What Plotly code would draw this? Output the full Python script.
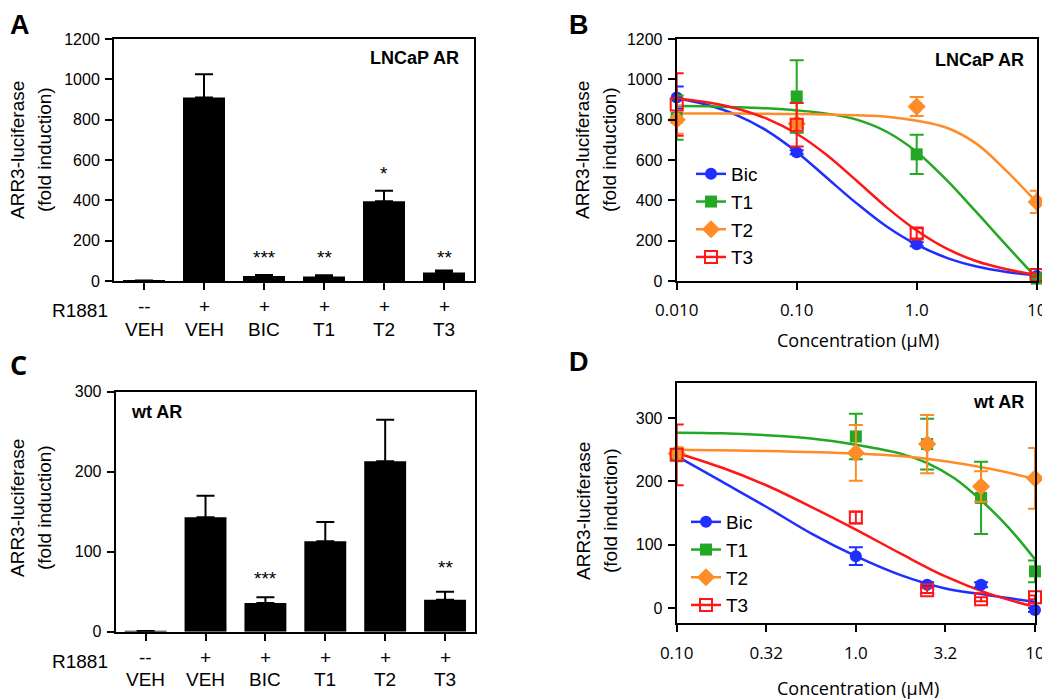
import plotly.graph_objects as go

# The page body has an 8px margin: lay the figure out in page pixels and compensate.
OFF = 8
W, H = 1050 - OFF, 699 - OFF
def px(x): return (x - OFF) / W
def py(y): return 1 - (y - OFF) / H

# ---------------- DATA ----------------
bar_row1 = ["--", "+", "+", "+", "+", "+"]
bar_row2 = ["VEH", "VEH", "BIC", "T1", "T2", "T3"]

a_vals = [3, 910, 25, 22, 395, 42]
a_err = [0, 115, 5, 6, 52, 10]
a_stars = ["", "", "***", "**", "*", "**"]
a_star_y = [0, 0, 115, 115, 535, 115]

c_vals = [1, 143, 36, 113, 213, 40]
c_err = [0, 27, 7, 24, 52, 10]
c_stars = ["", "", "***", "", "", "**"]
c_star_y = [0, 0, 67, 0, 0, 80]

series = ["Bic", "T1", "T2", "T3"]
colors = {"Bic": "#1f2fff", "T1": "#22a822", "T2": "#ff8c26", "T3": "#ff1616"}
symbols = {"Bic": "circle", "T1": "square", "T2": "diamond", "T3": "square-open"}
msize = {"Bic": 12, "T1": 12, "T2": 14, "T3": 12}

# Panel B (LNCaP AR) points
b_conc = [0.01, 0.1, 1.0, 10.0]
b_mean = {"Bic": [910, 638, 182, 25], "T1": [810, 915, 628, 12],
          "T2": [800, 780, 865, 392], "T3": [875, 775, 236, 30]}
b_sd = {"Bic": [55, 10, 10, 5], "T1": [110, 180, 97, 5],
        "T2": [70, 20, 47, 55], "T3": [155, 108, 25, 8]}
# Panel B fitted curves
b_curve_x = [0.01, 0.0178, 0.0316, 0.0562, 0.1, 0.178, 0.316, 0.562, 1.0, 1.78, 3.16, 5.62, 10.0]
b_curve = {"Bic": [906, 874, 823, 746, 640, 512, 385, 270, 180, 115, 72, 45, 28],
           "T1": [868, 866, 862, 856, 846, 830, 800, 740, 640, 500, 340, 175, 15],
           "T2": [830, 830, 830, 829, 828, 826, 822, 815, 795, 760, 680, 545, 390],
           "T3": [905, 886, 855, 805, 730, 625, 497, 365, 250, 160, 98, 58, 30]}

# Panel D (wt AR) points
d_conc = [0.1, 1.0, 2.5, 5.0, 10.0]
d_mean = {"Bic": [240, 82, 37, 37, -3], "T1": [242, 271, 259, 174, 58],
          "T2": [244, 245, 259, 192, 205], "T3": [242, 143, 28, 14, 17]}
d_sd = {"Bic": [5, 14, 4, 4, 3], "T1": [10, 36, 40, 57, 17],
        "T2": [10, 44, 46, 24, 48], "T3": [48, 9, 4, 3, 3]}
d_curve_x = {"Bic": [0.1, 0.178, 0.316, 0.562, 1.0, 1.78, 3.16, 5.62, 10.0],
             "T1": [0.1, 0.178, 0.316, 0.562, 1.0, 1.78, 2.51, 3.55, 5.01, 7.08, 10.0],
             "T2": [0.1, 0.316, 1.0, 1.78, 3.16, 5.62, 10.0],
             "T3": [0.1, 0.178, 0.316, 0.562, 1.0, 1.78, 3.16, 5.62, 10.0]}
d_curve = {"Bic": [240, 200, 160, 118, 82, 52, 31, 20, 10],
           "T1": [277, 276, 273, 268, 258, 244, 229, 205, 170, 128, 77],
           "T2": [250, 248, 244, 240, 232, 220, 204],
           "T3": [245, 222, 194, 160, 124, 86, 50, 22, 2]}

# ---------------- FIGURE ----------------
FONT = "Liberation Sans, Arial, sans-serif"
OFONT = "Open Sans, sans-serif"

fig = go.Figure()

# bars
fig.add_trace(go.Bar(x=list(range(6)), y=a_vals, width=0.7, marker_color="black",
                     marker_line_width=0,
                     error_y=dict(type="data", symmetric=False, array=a_err,
                                  arrayminus=[0] * 6, color="black", thickness=2, width=9),
                     xaxis="x", yaxis="y", showlegend=False))
fig.add_trace(go.Bar(x=list(range(6)), y=c_vals, width=0.7, marker_color="black",
                     marker_line_width=0,
                     error_y=dict(type="data", symmetric=False, array=c_err,
                                  arrayminus=[0] * 6, color="black", thickness=2, width=9),
                     xaxis="x3", yaxis="y3", showlegend=False))

# curves + points
for xa, ya, cx, cy, pts_x, pts_y, pts_sd, lg in [
    ("x2", "y2", b_curve_x, b_curve, b_conc, b_mean, b_sd, "legend"),
    ("x4", "y4", d_curve_x, d_curve, d_conc, d_mean, d_sd, "legend2")]:
    for s in series:
        xs = cx[s] if isinstance(cx, dict) else cx
        fig.add_trace(go.Scatter(x=xs, y=cy[s], mode="lines", line=dict(color=colors[s], width=2.5, shape="spline"),
                                 xaxis=xa, yaxis=ya, showlegend=False, cliponaxis=False))
    for s in series:
        fig.add_trace(go.Scatter(x=pts_x, y=pts_y[s], mode="markers",
                                 marker=dict(symbol=symbols[s], size=msize[s], color=colors[s],
                                             line=dict(color=colors[s], width=2 if s == "T3" else 0)),
                                 error_y=dict(type="data", array=pts_sd[s], color=colors[s], thickness=2, width=7),
                                 xaxis=xa, yaxis=ya, showlegend=False, cliponaxis=False))
    for s in series:
        fig.add_trace(go.Scatter(x=[None], y=[None], mode="lines+markers", name=s,
                                 marker=dict(symbol=symbols[s], size=msize[s], color=colors[s],
                                             line=dict(color=colors[s], width=2 if s == "T3" else 0)),
                                 line=dict(color=colors[s], width=2.5),
                                 xaxis=xa, yaxis=ya, legend=lg, showlegend=True))

axis_common = dict(showline=True, linewidth=2, linecolor="black", mirror=True,
                   ticks="outside", ticklen=7, tickwidth=2, tickcolor="black",
                   showgrid=False, zeroline=False, automargin=False,
                   tickfont=dict(family=FONT, size=16, color="black"))
noticks_font = {k: v for k, v in axis_common.items() if k != "tickfont"}

dA = dict(x=[px(114), px(474)], y=[py(281), py(39)])
dB = dict(x=[px(676.7), px(1036.7)], y=[py(281), py(39)])
dC = dict(x=[px(115.7), px(475)], y=[py(631.7), py(391.7)])
dD = dict(x=[px(676.7), px(1035)], y=[py(623.3), py(383.3)])

fig.update_layout(
    template="none",
    width=W, height=H, margin=dict(l=0, r=0, t=0, b=0, autoexpand=False),
    paper_bgcolor="white", plot_bgcolor="white",
    font=dict(family=FONT, color="black"),
    xaxis=dict(domain=dA["x"], range=[-0.5, 5.5], tickvals=list(range(6)), showticklabels=False,
               anchor="y", **noticks_font),
    yaxis=dict(domain=dA["y"], range=[0, 1200], tickvals=[0, 200, 400, 600, 800, 1000, 1200],
               anchor="x", ticklabelstandoff=2, **axis_common),
    xaxis2=dict(domain=dB["x"], type="log", range=[-2, 1], tickvals=[0.01, 0.1, 1, 10],
                ticktext=["0.010", "0.10", "1.0", "10"], anchor="y2", ticklabelstandoff=6,
                **{**axis_common, "tickfont": dict(family=OFONT, size=17, color="black")}),
    yaxis2=dict(domain=dB["y"], range=[0, 1200], tickvals=[0, 200, 400, 600, 800, 1000, 1200],
                anchor="x2", ticklabelstandoff=2, **axis_common),
    xaxis3=dict(domain=dC["x"], range=[-0.5, 5.5], tickvals=list(range(6)), showticklabels=False,
                anchor="y3", **noticks_font),
    yaxis3=dict(domain=dC["y"], range=[0, 300], tickvals=[0, 100, 200, 300],
                anchor="x3", ticklabelstandoff=2, **axis_common),
    xaxis4=dict(domain=dD["x"], type="log", range=[-1, 1], tickvals=[0.1, 0.316, 1, 3.16, 10],
                ticktext=["0.10", "0.32", "1.0", "3.2", "10"], anchor="y4", ticklabelstandoff=6,
                **{**axis_common, "tickfont": dict(family=OFONT, size=17, color="black")}),
    yaxis4=dict(domain=dD["y"], range=[-24, 355], tickvals=[0, 100, 200, 300],
                anchor="x4", ticklabelstandoff=2, **axis_common),
    legend=dict(x=px(691), y=py(155), xanchor="left", yanchor="top", bgcolor="rgba(0,0,0,0)",
                font=dict(family=FONT, size=19, color="black"), itemwidth=30, tracegroupgap=0),
    legend2=dict(x=px(686), y=py(503), xanchor="left", yanchor="top", bgcolor="rgba(0,0,0,0)",
                 font=dict(family=FONT, size=19, color="black"), itemwidth=30, tracegroupgap=0),
    bargap=0.3,
)

ann = []
def A(x, y, text, size=19, bold=False, xanchor="center", family=FONT, angle=0, xref="paper", yref="paper"):
    ann.append(dict(x=x, y=y, xref=xref, yref=yref, text=("<b>%s</b>" % text) if bold else text,
                    showarrow=False, xanchor=xanchor, yanchor="middle", textangle=angle,
                    font=dict(family=family, size=size, color="black")))

# panel letters (kept fully inside the drawable page area)
A(px(8), py(25), "A", size=27, bold=True, xanchor="left")
A(px(567), py(25), "B", size=27, bold=True, xanchor="left")
A(px(8), py(364), "C", size=27, bold=True, xanchor="left", family=OFONT)
A(px(567), py(362), "D", size=27, bold=True, xanchor="left")

# panel inset titles
A(px(461), py(58), "LNCaP AR", size=18, bold=True, xanchor="right")
A(px(1026), py(60), "LNCaP AR", size=18, bold=True, xanchor="right")
A(px(129), py(412), "wt AR", size=18, bold=True, xanchor="left")
A(px(1026), py(402), "wt AR", size=18, bold=True, xanchor="right")

# y titles
for xl1, xl2, yc in [(18, 45, 150), (583, 610, 150), (17, 44, 508), (583, 610, 511)]:
    A(px(xl1), py(yc), "ARR3-luciferase", size=19, angle=-90)
    A(px(xl2), py(yc), "(fold induction)", size=19, angle=-90)

# x titles
A(px(858), py(340), "Concentration (µM)", size=18, family=OFONT)
A(px(858), py(688), "Concentration (µM)", size=18, family=OFONT)

# category labels
for xa, r1y, r2y, rl in [("x", 307, 329, 310), ("x3", 657, 679, 661)]:
    A(px(80), py(rl), "R1881", size=19)
    for i in range(6):
        A(i, py(r1y), bar_row1[i], size=19, xref=xa)
        A(i, py(r2y), bar_row2[i], size=19, xref=xa)

# stars
for i in range(6):
    if a_stars[i]:
        A(i, a_star_y[i], a_stars[i], size=19, xref="x", yref="y")
    if c_stars[i]:
        A(i, c_star_y[i], c_stars[i], size=19, xref="x3", yref="y3")

fig.update_layout(annotations=ann)
fig.write_html("out.html")
